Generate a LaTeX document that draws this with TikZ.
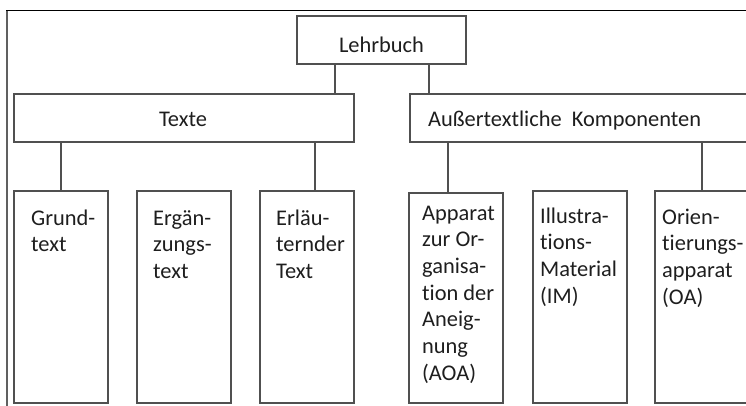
\documentclass[tikz,border=0pt]{standalone}
\usepackage{fontspec}
\setmainfont{Carlito}[RawFeature={-liga}]
\definecolor{linegray}{HTML}{505050}
\definecolor{framegray}{HTML}{606060}
\definecolor{txt}{HTML}{1E1E1E}
\begin{document}
\begin{tikzpicture}[x=1pt,y=-1pt,
  box/.style={draw=linegray, line width=1.3pt, inner sep=0pt},
  lbl/.style={font=\fontsize{22.4}{26.7}\selectfont, inner sep=0pt, text=txt},
  conn/.style={draw=linegray, line width=1.3pt}]
\useasboundingbox (0,0) rectangle (746,405);
\clip (0,0) rectangle (746,405);
% outer frame
\draw[framegray, line width=2pt] (7,406) -- (7,10);
\draw[black, line width=1pt] (6,10) -- (750,10);
% upper boxes
\node[box, minimum width=169pt, minimum height=48pt] (lehr) at (381.5,40) {};
\node[box, minimum width=340pt, minimum height=48pt] (texte) at (184,118) {};
\node[box, minimum width=360pt, minimum height=48pt] (komp) at (590,118) {};
\node[lbl, anchor=base] (lehrT) at (381.5,52) {Lehrbuch};
\node[lbl, anchor=base] (texteT) at (183,126) {Texte};
\node[lbl, anchor=base west] (kompT) at (428,126) {Außertextliche\ \ Komponenten};
% lower boxes
\node[box, minimum width=94pt, minimum height=212pt] (b1) at (61,297) {};
\node[box, minimum width=94pt, minimum height=212pt] (b2) at (184,297) {};
\node[box, minimum width=94pt, minimum height=212pt] (b3) at (307,297) {};
\node[box, minimum width=94pt, minimum height=210pt] (b4) at (456,298) {};
\node[box, minimum width=94pt, minimum height=212pt] (b5) at (580,297) {};
\node[box, minimum width=115pt, minimum height=212pt] (b6) at (712.5,297) {};
\node[lbl, anchor=base west] (b1T) at (31,225) {\parbox[t]{80pt}{\raggedright Grund-\\text}};
\node[lbl, anchor=base west] (b2T) at (153,225) {\parbox[t]{80pt}{\raggedright Ergän-\\zungs-\\text}};
\node[lbl, anchor=base west] (b3T) at (276,225) {\parbox[t]{80pt}{\raggedright Erläu-\\ternder\\Text}};
\node[lbl, anchor=base west] (b4T) at (422,220) {\parbox[t]{80pt}{\raggedright Apparat\\zur Or-\\ganisa-\\tion der\\Aneig-\\nung\\(AOA)}};
\node[lbl, anchor=base west] (b5T) at (540,223) {\parbox[t]{85pt}{\raggedright Illustra-\\tions-\\Material\\(IM)}};
\node[lbl, anchor=base west] (b6T) at (662,224) {\parbox[t]{85pt}{\raggedright Orien-\\tierungs-\\apparat\\(OA)}};
% connector columns
\coordinate (c1) at (335,0);
\coordinate (c2) at (429,0);
\coordinate (c3) at (315,0);
\coordinate (c4) at (448,0);
\coordinate (c5) at (702,0);
\draw[conn] (lehr.south -| c1) -- (texte.north -| c1);
\draw[conn] (lehr.south -| c2) -- (komp.north -| c2);
\draw[conn] (texte.south -| b1.north) -- (b1.north);
\draw[conn] (texte.south -| c3) -- (b3.north -| c3);
\draw[conn] (komp.south -| c4) -- (b4.north -| c4);
\draw[conn] (komp.south -| c5) -- (b6.north -| c5);
\end{tikzpicture}
\end{document}
